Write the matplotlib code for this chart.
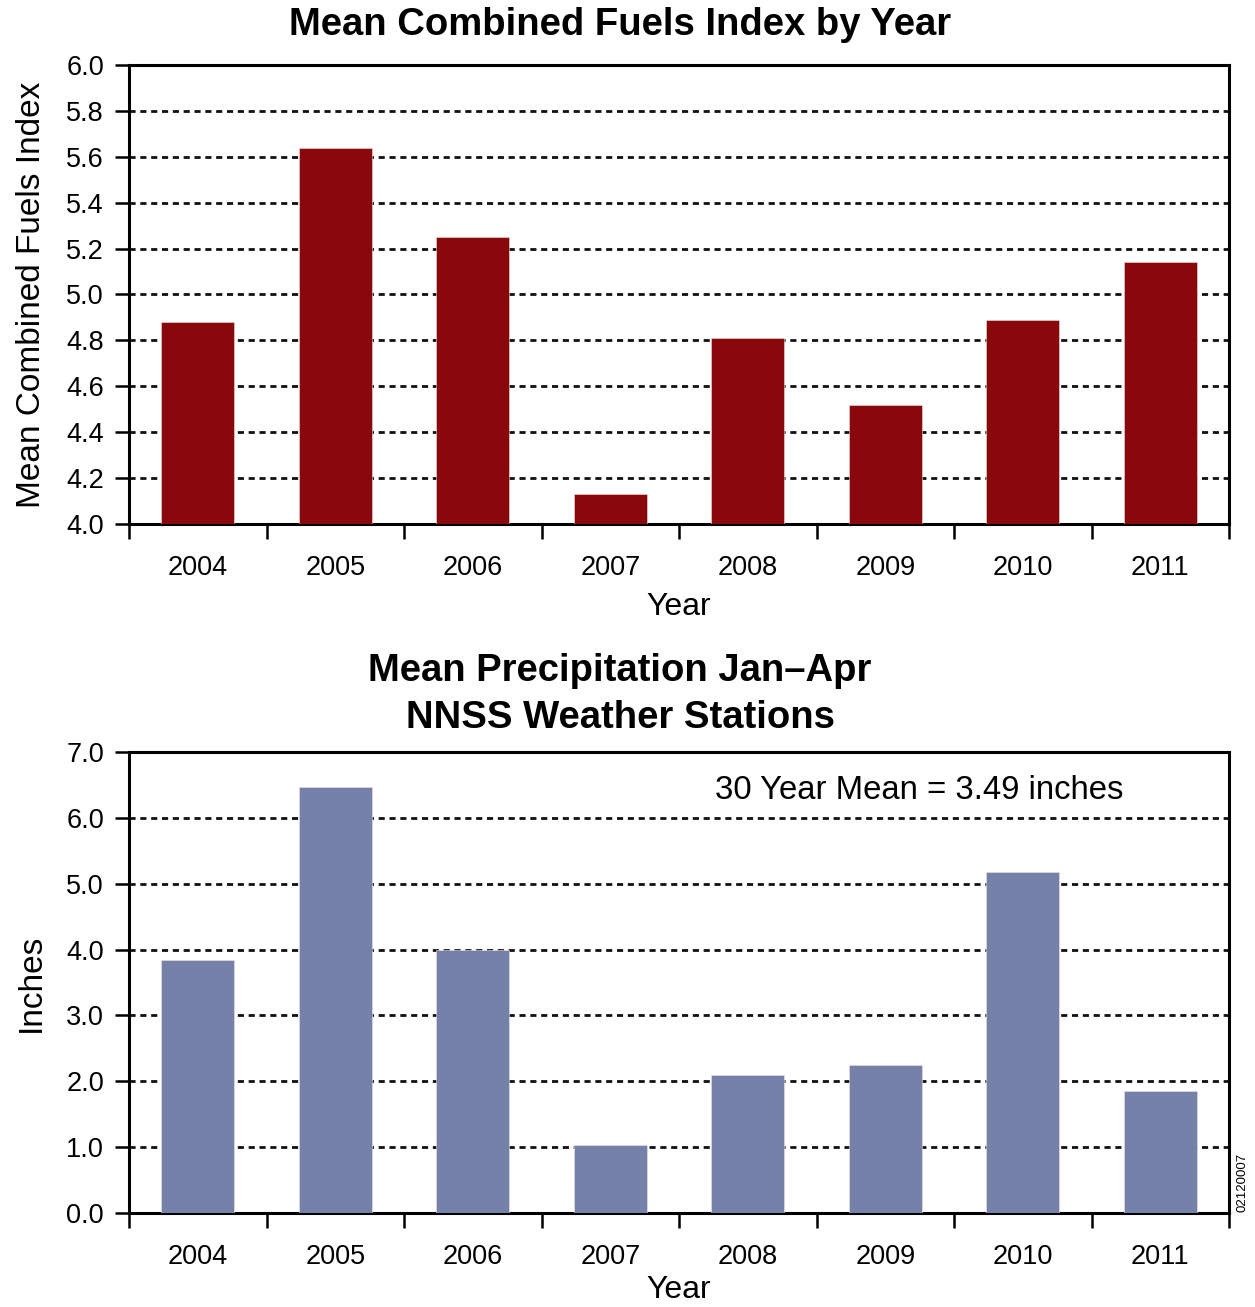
import numpy as np
import matplotlib
matplotlib.use("Agg")
import matplotlib.pyplot as plt
from matplotlib.ticker import FixedLocator, NullFormatter

years = ["2004", "2005", "2006", "2007", "2008", "2009", "2010", "2011"]
fuels_index = [4.88, 5.64, 5.25, 4.13, 4.81, 4.52, 4.89, 5.14]
precip_inches = [3.84, 6.47, 4.00, 1.03, 2.09, 2.24, 5.18, 1.85]
fuels_ticks = [4.0, 4.2, 4.4, 4.6, 4.8, 5.0, 5.2, 5.4, 5.6, 5.8, 6.0]
precip_ticks = [0.0, 1.0, 2.0, 3.0, 4.0, 5.0, 6.0, 7.0]

plt.rcParams["font.family"] = ["Liberation Sans", "DejaVu Sans"]

W, H = 1255, 1307
fig = plt.figure(figsize=(W / 100, H / 100), dpi=100)
fig.patch.set_facecolor("white")

def px_axes(left, top, right, bottom):
  return fig.add_axes([left / W, 1 - bottom / H, (right - left) / W, (bottom - top) / H])

def style_axes(ax, yticks, color, values, xpad):
  x = np.arange(len(years))
  ax.bar(x, values, width=0.53, color=color, edgecolor="#f0e0e0", linewidth=0.4, zorder=3)
  ax.set_xlim(-0.5, len(years) - 0.5)
  ax.set_ylim(yticks[0], yticks[-1])
  ax.set_yticks(yticks)
  ax.set_yticklabels([f"{t:.1f}" for t in yticks])
  ax.xaxis.set_major_locator(FixedLocator(np.arange(-0.5, len(years), 1.0)))
  ax.xaxis.set_major_formatter(NullFormatter())
  ax.xaxis.set_minor_locator(FixedLocator(x))
  ax.set_xticklabels(years, minor=True)
  ax.tick_params(axis="x", which="major", direction="out", length=11, width=1.8)
  ax.tick_params(axis="x", which="minor", length=0, pad=22, labelsize=19.5)
  ax.tick_params(axis="y", direction="out", length=10, width=1.8, pad=8, labelsize=19.5)
  for s in ax.spines.values():
    s.set_linewidth(2.2)
  for t in yticks[1:-1]:
    ax.axhline(t, color="#111111", linewidth=2, linestyle=(0, (2.2, 1.7)), zorder=1)
  ax.set_xlabel("Year", fontsize=23, labelpad=xpad)

ax1 = px_axes(129, 65, 1229, 524)
style_axes(ax1, fuels_ticks, "#88080C", fuels_index, 8)
ax1.set_ylabel("Mean Combined Fuels Index", fontsize=24, labelpad=14)

ax2 = px_axes(129, 752, 1229, 1213)
style_axes(ax2, precip_ticks, "#7581A9", precip_inches, 4)
ax2.set_ylabel("Inches", fontsize=24, labelpad=14)
ax2.text(0.533, 0.916, "30 Year Mean = 3.49 inches", transform=ax2.transAxes,
         fontsize=23.7, ha="left", va="center")

fig.text(620 / W, 1 - 25 / H, "Mean Combined Fuels Index by Year",
         fontsize=27.5, fontweight="bold", ha="center", va="center")
fig.text(620 / W, 1 - 671 / H, "Mean Precipitation Jan\u2013Apr",
         fontsize=27.5, fontweight="bold", ha="center", va="center")
fig.text(620 / W, 1 - 718 / H, "NNSS Weather Stations",
         fontsize=27.5, fontweight="bold", ha="center", va="center")
fig.text(1243 / W, 1 - 1212 / H, "02120007", fontsize=9.5, rotation=90,
         ha="center", va="bottom")

fig.savefig("out.png", dpi=100)
